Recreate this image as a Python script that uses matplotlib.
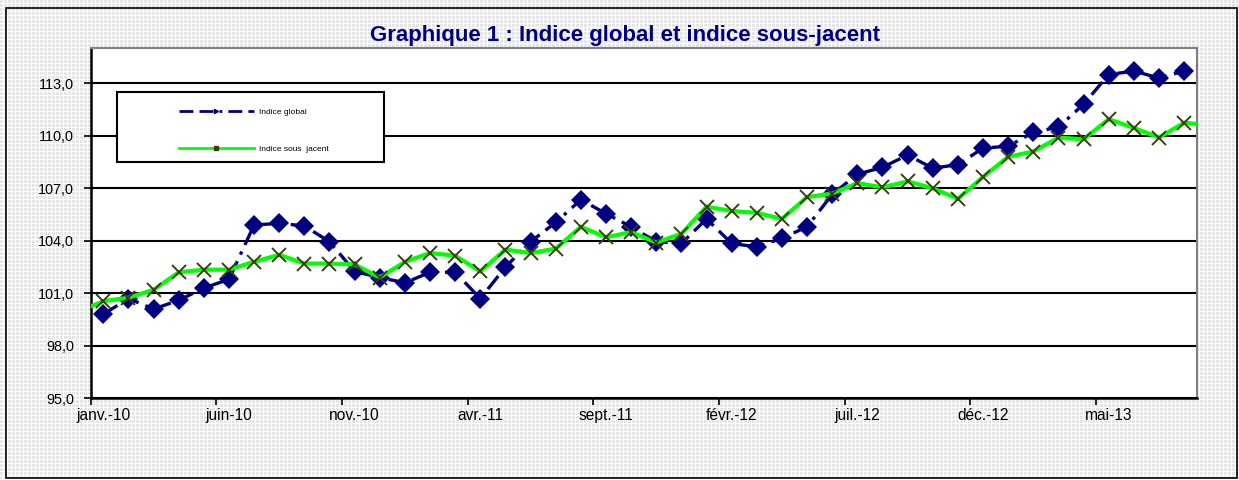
import numpy as np
import matplotlib
matplotlib.use("Agg")
import matplotlib.pyplot as plt
from matplotlib.lines import Line2D
from matplotlib.patches import Rectangle
from matplotlib.ticker import FixedLocator, FuncFormatter

# ---------------- data ----------------
# monthly values, janv.-10 ... sept.-13 (the last month is cut by the axis edge)
indice_global = [99.8, 100.7, 100.1, 100.6, 101.3, 101.8, 104.9, 105.0, 104.85, 103.95,
                 102.25, 101.9, 101.6, 102.2, 102.2, 100.7, 102.5, 103.95, 105.05, 106.35,
                 105.55, 104.8, 103.95, 103.85, 105.25, 103.85, 103.65, 104.15, 104.8, 106.65,
                 107.8, 108.2, 108.9, 108.15, 108.35, 109.3, 109.4, 110.2, 110.5, 111.8,
                 113.5, 113.7, 113.3, 113.7, 114.15]
# déc.-09 ... sept.-13 (first and last months are cut by the axis edges)
indice_sous_jacent = [99.95, 100.55, 100.75, 101.2, 102.2, 102.35, 102.35, 102.8, 103.2, 102.7,
                      102.7, 102.65, 101.9, 102.8, 103.3, 103.15, 102.25, 103.5, 103.3, 103.55,
                      104.8, 104.2, 104.5, 103.9, 104.4, 105.95, 105.7, 105.6, 105.25, 106.5,
                      106.7, 107.3, 107.05, 107.4, 107.0, 106.4, 107.65, 108.8, 109.1, 109.9,
                      109.8, 110.95, 110.45, 109.9, 110.75, 110.6]
n_months_shown = 44
tick_labels = ['janv.-10', 'juin-10', 'nov.-10', 'avr.-11', 'sept.-11',
               'févr.-12', 'juil.-12', 'déc.-12', 'mai-13']
label_step = 5
y_ticks = [95, 98, 101, 104, 107, 110, 113]
series_names = ['Indice global', 'Indice sous  jacent']
title = 'Graphique 1 : Indice global et indice sous-jacent'

# ---------------- figure ----------------
W, H, DPI = 1239, 480, 100
fig = plt.figure(figsize=(W / DPI, H / DPI), dpi=DPI)
plt.rcParams['font.family'] = ['Liberation Sans', 'DejaVu Sans']

# patterned chart background
yy, xx = np.mgrid[0:H, 0:W]
blk = ((xx % 4) < 3) & ((yy % 4) < 3)
bg = np.where(blk, 0.905, 1.0)
bg_rgb = np.dstack([bg, bg, bg])
fig.figimage(bg_rgb, xo=0, yo=0, zorder=-5)

# outer frame
fig.patches.append(Rectangle((6 / W, 2 / H), 1231 / W, 470 / H, transform=fig.transFigure,
                             fill=False, edgecolor='black', linewidth=1.2, zorder=1))

left, right = 90.7 / W, 1196.7 / W
top, bottom = 1 - 48.3 / H, 1 - 398.3 / H
ax = fig.add_axes([left, bottom, right - left, top - bottom])
ax.set_zorder(2)
ax.set_facecolor('white')

x_glob = np.arange(len(indice_global))
x_sj = np.arange(len(indice_sous_jacent)) - 1

dash = (0, (5, 2.2, 5, 2.2, 1, 2.2))
ax.plot(x_glob, indice_global, color='#000080', linewidth=2.4,
        linestyle=dash, marker='D', markersize=10.5,
        markeredgewidth=0, zorder=3)
ax.plot(x_sj, indice_sous_jacent, color='#00FF00', linewidth=3.0, zorder=4)
ax.plot(x_sj, indice_sous_jacent, linestyle='none', marker='x', markersize=10.5,
        markeredgewidth=1.4, color='#403a10', zorder=5)

ax.set_xlim(-0.5, n_months_shown - 0.5)
ax.set_ylim(95, 115)

# y axis
ax.set_yticks(y_ticks)
ax.yaxis.set_major_formatter(FuncFormatter(lambda v, p: f"{v:.1f}".replace('.', ',')))
ax.tick_params(axis='y', which='major', direction='out', length=5, width=1.2,
               labelsize=10.4, pad=7, colors='black')
ax.grid(axis='y', color='black', linewidth=1.5, zorder=1)
ax.set_axisbelow(True)

# x axis: ticks on month boundaries, labels at month centres
label_pos = np.arange(len(tick_labels)) * label_step
ax.xaxis.set_major_locator(FixedLocator(label_pos - 0.5))
ax.xaxis.set_minor_locator(FixedLocator(label_pos))
ax.set_xticklabels([], minor=False)
ax.set_xticklabels(tick_labels, minor=True)
ax.tick_params(axis='x', which='major', direction='out', length=5, width=1.2)
ax.tick_params(axis='x', which='minor', length=0, labelsize=11.2, pad=7)

for s in ['left', 'bottom']:
    ax.spines[s].set_color('black')
    ax.spines[s].set_linewidth(1.8)
for s in ['top', 'right']:
    ax.spines[s].set_color('#808080')
    ax.spines[s].set_linewidth(1.5)

# legend box + entries
ax.add_patch(Rectangle((0.0238, 0.675), 0.2414, 0.2, transform=ax.transAxes,
                       facecolor='white', edgecolor='black', linewidth=1.5, zorder=6))
handles = [
    Line2D([], [], color='#000080', linewidth=2.0, linestyle=dash,
           marker='>', markersize=3),
    Line2D([], [], color='#00FF00', linewidth=2.0, marker='s', markersize=2.5,
           markerfacecolor='#403a10', markeredgecolor='#403a10'),
]
leg = ax.legend(handles, series_names, loc='upper left', bbox_to_anchor=(0.0795, 0.83),
                frameon=False, fontsize=6, handlelength=9, handletextpad=0.6,
                labelspacing=3.5, borderpad=0, borderaxespad=0)
leg.set_zorder(7)

fig.text(625 / W, 1 - 35 / H, title, ha='center', va='center', fontsize=16,
         fontweight='bold', color='#000080')

fig.savefig('out.png', dpi=DPI)
